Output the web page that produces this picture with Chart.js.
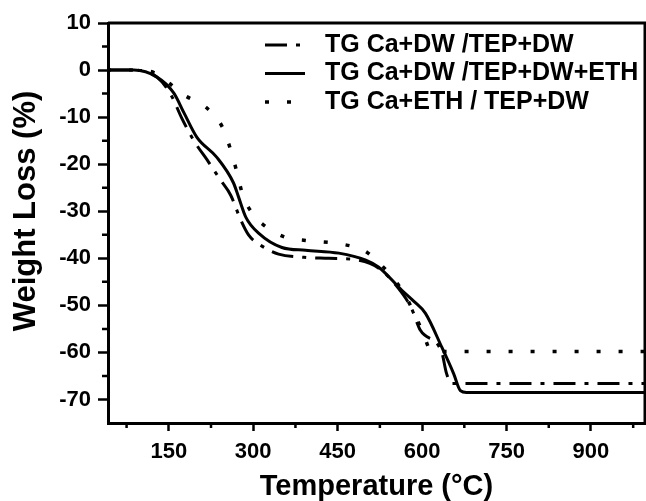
<!DOCTYPE html>
<html>
<head>
<meta charset="utf-8">
<title>TG curves</title>
<script src="https://cdn.jsdelivr.net/npm/chart.js@4.4.1/dist/chart.umd.min.js"></script>
<style>
  html, body { margin: 0; padding: 0; background: #fff; }
  #wrap { width: 646px; height: 501px; }
</style>
</head>
<body>
<div id="wrap"><canvas id="tgChart" width="646" height="501"></canvas></div>
<script>
// series labels
const seriesNames = [
  'TG Ca+DW /TEP+DW',
  'TG Ca+DW /TEP+DW+ETH',
  'TG Ca+ETH / TEP+DW'
];

// TG Ca+DW /TEP+DW (dash-dot)
const dashDotTemp = [40, 88, 129, 154, 173, 194, 221, 242, 260, 278, 292, 313, 345, 390, 434, 487, 523, 558, 581, 597, 635, 643, 652, 683, 996];
const dashDotLoss = [0, 0, -1.5, -5.3, -10.2, -14.9, -19.6, -23.4, -26.6, -31.9, -35.1, -37.2, -39.1, -39.8, -40.0, -40.4, -42.1, -46.4, -50.6, -55.3, -60.0, -64.3, -66.6, -66.6, -66.6];

// TG Ca+DW /TEP+DW+ETH (solid)
const solidTemp = [40, 88, 129, 159, 177, 200, 235, 265, 274, 287, 310, 351, 393, 452, 500, 523, 564, 585, 606, 635, 656, 668, 679, 996];
const solidLoss = [0, 0, -1.5, -4.9, -9.1, -14.3, -18.5, -24.0, -27.0, -31.3, -34.7, -37.7, -38.3, -38.9, -40.4, -41.9, -46.8, -49.1, -51.7, -58.9, -64.5, -68.1, -68.5, -68.5];

// TG Ca+ETH / TEP+DW (dotted)
const dotTemp = [40, 100, 132, 155, 177, 216, 246, 260, 271, 281, 304, 317, 356, 393, 457, 496, 523, 558, 584, 602, 617, 996];
const dotLoss = [0, 0, -1, -3.2, -5.3, -7.9, -12.3, -17.0, -21.7, -26.4, -31.3, -32.8, -35.5, -36.2, -37.0, -38.3, -40.9, -45.7, -51.1, -56.0, -59.8, -59.8];

// axis ticks
const xTicks = [150, 300, 450, 600, 750, 900];
const xMinor = [75, 225, 375, 525, 675, 825, 975];
const yTicks = [-70, -60, -50, -40, -30, -20, -10, 0, 10];
const yMinor = [-65, -55, -45, -35, -25, -15, -5, 5];

const yTitle = 'Weight Loss (%)';
const FONT = '"Liberation Sans", Arial, sans-serif';

function toPoints(xs, ys) {
  return xs.map((t, i) => ({ x: t, y: ys[i] }));
}

// top/right frame, minor ticks and the y title
const frameAndMinor = {
  id: 'frameAndMinor',
  afterDraw(chart) {
    const { ctx, chartArea: a, scales: { x, y } } = chart;
    ctx.save();
    ctx.strokeStyle = '#000';
    ctx.lineWidth = 3;
    ctx.beginPath();
    ctx.moveTo(a.left, a.top);
    ctx.lineTo(a.right, a.top);
    ctx.lineTo(a.right, a.bottom);
    ctx.stroke();

    ctx.lineWidth = 2.5;
    ctx.beginPath();
    xMinor.forEach(v => {
      const px = x.getPixelForValue(v);
      ctx.moveTo(px, a.bottom);
      ctx.lineTo(px, a.bottom + 5);
    });
    yMinor.forEach(v => {
      const py = y.getPixelForValue(v);
      ctx.moveTo(a.left - 6, py);
      ctx.lineTo(a.left, py);
    });
    ctx.stroke();

    // y title sits a bit above the plot's middle in the original
    ctx.translate(26, (a.top + a.bottom) / 2 - 12);
    ctx.rotate(-Math.PI / 2);
    ctx.font = 'bold 31px ' + FONT;
    ctx.textAlign = 'center';
    ctx.textBaseline = 'middle';
    ctx.fillStyle = '#000';
    ctx.fillText(yTitle, 0, 0);
    ctx.restore();
  }
};

// legend drawn inside the plot, no box
const insideLegend = {
  id: 'insideLegend',
  afterDraw(chart) {
    const { ctx, chartArea: a } = chart;
    ctx.save();
    ctx.font = 'bold 25px ' + FONT;
    ctx.textBaseline = 'middle';
    ctx.fillStyle = '#000';
    chart.data.datasets.forEach((ds, i) => {
      const rowY = a.top + 22 + i * 28.5;
      const x0 = a.left + 157;
      ctx.strokeStyle = '#000';
      ctx.lineWidth = ds.borderWidth;
      ctx.setLineDash(ds.borderDash || []);
      ctx.beginPath();
      ctx.moveTo(x0, rowY);
      ctx.lineTo(x0 + 40, rowY);
      ctx.stroke();
      ctx.setLineDash([]);
      ctx.fillText(ds.label, x0 + 60, rowY);
    });
    ctx.restore();
  }
};

const ctx = document.getElementById('tgChart').getContext('2d');

new Chart(ctx, {
  type: 'line',
  data: {
    datasets: [
      {
        label: seriesNames[0],
        data: toPoints(dashDotTemp, dashDotLoss),
        borderColor: '#000',
        borderWidth: 3,
        borderDash: [22, 9, 4, 9]
      },
      {
        label: seriesNames[1],
        data: toPoints(solidTemp, solidLoss),
        borderColor: '#000',
        borderWidth: 3
      },
      {
        label: seriesNames[2],
        data: toPoints(dotTemp, dotLoss),
        borderColor: '#000',
        borderWidth: 3.5,
        borderDash: [4, 18]
      }
    ]
  },
  options: {
    responsive: false,
    animation: false,
    devicePixelRatio: 1,
    layout: { padding: { top: 23, right: 1, left: 0, bottom: 0 } },
    elements: {
      point: { radius: 0 },
      line: { cubicInterpolationMode: 'monotone', fill: false }
    },
    plugins: {
      legend: { display: false },
      tooltip: { enabled: false }
    },
    scales: {
      x: {
        type: 'linear',
        min: 42,
        max: 996,
        afterBuildTicks: s => { s.ticks = xTicks.map(v => ({ value: v })); },
        afterFit: s => { s.height = 78; },
        grid: { drawOnChartArea: false, drawTicks: true, tickLength: 8, tickWidth: 2.5, tickColor: '#000' },
        border: { display: true, color: '#000', width: 3 },
        ticks: {
          color: '#000',
          padding: 8,
          maxRotation: 0,
          font: { family: FONT, size: 22, weight: 'bold' }
        },
        title: {
          display: true,
          text: 'Temperature (°C)',
          color: '#000',
          font: { family: FONT, size: 29, weight: 'bold', lineHeight: 1 },
          padding: { top: 0, bottom: 0 }
        }
      },
      y: {
        type: 'linear',
        min: -75,
        max: 10,
        afterBuildTicks: s => { s.ticks = yTicks.map(v => ({ value: v })); },
        afterFit: s => { s.width = 108; },
        grid: { drawOnChartArea: false, drawTicks: true, tickLength: 10, tickWidth: 2.5, tickColor: '#000' },
        border: { display: true, color: '#000', width: 3 },
        ticks: {
          color: '#000',
          padding: 7,
          font: { family: FONT, size: 22, weight: 'bold' }
        }
      }
    }
  },
  plugins: [frameAndMinor, insideLegend]
});
</script>
</body>
</html>
